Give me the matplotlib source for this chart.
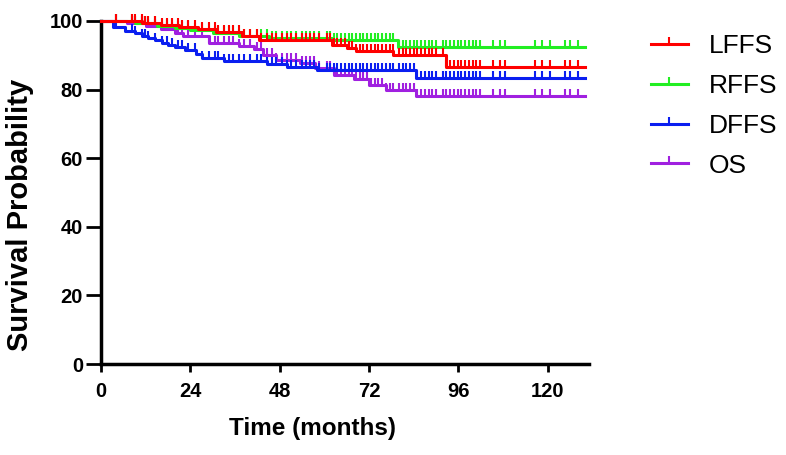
import numpy as np
import matplotlib
matplotlib.use('Agg')
import matplotlib.pyplot as plt
from matplotlib.path import Path
from matplotlib.lines import Line2D

plt.rcParams.update({
    'font.family': ['Liberation Sans', 'DejaVu Sans'],
    'axes.linewidth': 2.5,
})

# Kaplan-Meier steps (months, survival %)
lffs_t = [0, 11, 16, 21, 26, 31, 38, 42.5, 62, 66, 68.5, 78.5, 92.8]
lffs_s = [100, 99.4, 98.8, 98.2, 97.6, 96.9, 95.5, 94.5, 93.0, 92.2, 91.2, 90.0, 86.6]

rffs_t = [0, 9, 15, 20, 24, 30, 37, 45, 62, 79.7]
rffs_s = [100, 99.3, 98.6, 98.0, 97.4, 96.5, 95.6, 95.0, 94.5, 92.5]

dffs_t = [0, 3.3, 6.4, 9.1, 10.9, 12.7, 14.5, 16.3, 18.1, 19.9, 22.5, 25.5,
          27.0, 33.0, 44.5, 50.0, 58.0, 84.7]
dffs_s = [100, 98.3, 97.0, 96.4, 95.7, 95.0, 94.3, 93.6, 92.9, 92.3, 91.5, 90.5,
          89.2, 88.4, 87.5, 86.6, 85.7, 83.4]

os_t = [0, 7, 12, 16, 20, 22, 29, 37, 41, 43.5, 47, 53.5, 57.5, 62.5, 68, 72,
        76.5, 84.7]
os_s = [100, 99.3, 98.6, 97.7, 96.6, 95.5, 93.6, 92.6, 91.8, 90.2, 88.7, 87.7,
        86.3, 84.2, 83.2, 81.3, 79.9, 78.0]

# censored observations (shared follow-up times)
censor_t = [4, 8.2, 9.1, 10.9, 11.8, 12.7, 14.5, 16.3, 17.6, 19.0, 20.8, 21.7,
            23.5, 25.3, 27.2, 29, 30.5, 31.5, 33, 34.5, 35.5, 37, 38.5, 40, 42,
            43, 44.5, 46, 47, 48.5, 50, 51, 52.5, 54, 55, 56.1, 57.2, 58.5,
            60.7, 61.4, 62.5, 63.5, 64.5, 65.5, 66.5, 67.5, 68.5, 69.5, 70.5,
            71.5, 72.5, 73.5, 74.5, 75.5, 76.5, 77.5, 78.4, 80, 81, 82, 83, 84,
            85, 86, 87, 88, 89, 90, 91.8, 92.8, 93.8, 94.8, 95.8, 96.8, 97.8,
            98.8, 99.8, 100.7, 101.7, 105.2, 107.1, 108.5, 116.5, 118.4, 120.5,
            124.6, 125.9, 128.2]
t_end = 130

names = ['LFFS', 'RFFS', 'DFFS', 'OS']
colors = ['#ff0000', '#22ee22', '#0a1ef0', '#a020e0']
curves = [(lffs_t, lffs_s), (rffs_t, rffs_s), (dffs_t, dffs_s), (os_t, os_s)]

# upward tick marker for censored points
tick = Path([(0, 0), (0, 1)], [Path.MOVETO, Path.LINETO])

fig = plt.figure(figsize=(7.86, 4.55), dpi=100)
ax = fig.add_axes([0.1285, 0.2, 0.6205, 0.754])

# draw purple first, red on top
for i in [3, 2, 1, 0]:
    t, s = curves[i]
    tt = np.append(t, t_end)
    ss = np.append(s, s[-1])
    ax.plot(tt, ss, drawstyle='steps-post', color=colors[i], lw=2.2,
            clip_on=False, zorder=3 + (3 - i))
    ct = np.array(censor_t)
    idx = np.searchsorted(t, ct, side='right') - 1
    cs = np.array(s)[idx]
    ax.plot(ct, cs, ls='none', marker=tick, ms=10, mew=1.5, color=colors[i],
            clip_on=False, zorder=3 + (3 - i))

ax.set_xlim(0, 131)
ax.set_ylim(0, 100)
ax.set_xticks([0, 24, 48, 72, 96, 120])
ax.set_yticks([0, 20, 40, 60, 80, 100])
ax.spines['top'].set_visible(False)
ax.spines['right'].set_visible(False)
ax.tick_params(axis='both', which='major', width=2, labelsize=14.5)
ax.tick_params(axis='x', length=6, pad=7)
ax.tick_params(axis='y', length=11, pad=2)
for lbl in ax.get_xticklabels() + ax.get_yticklabels():
    lbl.set_fontweight('bold')

ax.set_xlabel('Time (months)', fontsize=17.5, fontweight='bold')
ax.set_ylabel('Survival Probability', fontsize=21, fontweight='bold')
ax.xaxis.set_label_coords(0.434, -0.155)
ax.yaxis.set_label_coords(-0.137, 0.434)

handles = [Line2D([], [], color=c, lw=2.2, marker=tick, ms=10, mew=1.5)
           for c in colors]
fig.legend(handles, names, loc='upper left', bbox_to_anchor=(0.828, 0.925),
           frameon=False, fontsize=19, handlelength=1.4, handletextpad=0.8,
           labelspacing=0.6, borderpad=0, borderaxespad=0, numpoints=1)

fig.savefig('out.png', dpi=100, facecolor='white')
